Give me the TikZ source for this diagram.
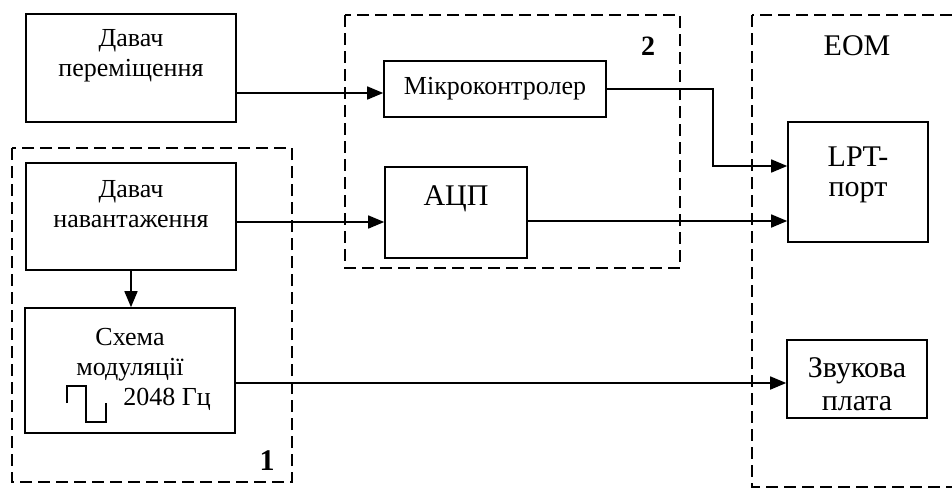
\documentclass[tikz,border=0pt]{standalone}
\usepackage{fontspec}
\setmainfont{Liberation Serif}
\usetikzlibrary{arrows.meta,calc}
\newcommand{\lns}[1]{\begin{tabular}[t]{@{}c@{}}#1\end{tabular}}
\begin{document}
\begin{tikzpicture}[x=1pt,y=-1pt,
  blk/.style={draw,line width=1.6pt,inner sep=0pt,text height=0pt,text depth=0pt},
  fsmall/.style={font=\fontsize{26}{30}\selectfont},
  fbig/.style={font=\fontsize{30}{30}\selectfont},
  grp/.style={draw,line width=1.8pt,dash pattern=on 12pt off 6pt},
  arr/.style={line width=1.6pt,-{Triangle[length=16pt,width=13pt]}},
  conn/.style={line width=1.6pt}]
\useasboundingbox (0,0) rectangle (952,491);
\fill[white] (0,0) rectangle (952,491);
% groups
\draw[grp] (12,148) rectangle (292,482);
\draw[grp] (345,15) rectangle (680,268);
\draw[grp] (752,15) rectangle (965,487);
\node[font=\bfseries\fontsize{30}{30}\selectfont,anchor=base] (g1) at (267,470) {1};
\node[font=\bfseries\fontsize{28}{30}\selectfont,anchor=base] (g2) at (648,55) {2};
\node[fbig,anchor=base] (g3) at (857,55) {ЕОМ};
% blocks
\node[blk,fsmall,minimum width=210pt,minimum height=108pt,text depth=44pt] (A) at (131,68) {\lns{Давач\\переміщення}};
\node[blk,fsmall,minimum width=210pt,minimum height=107pt,text depth=39pt] (B) at (131,216.5) {\lns{Давач\\навантаження}};
\node[blk,fsmall,minimum width=210pt,minimum height=125pt,text depth=51pt] (S) at (130,370.5) {\lns{Схема\\модуляції\\\hspace*{74pt}2048 Гц}};
\node[blk,fsmall,minimum width=222pt,minimum height=56pt,text height=10pt] (M) at (495,89) {Мікроконтролер};
\node[blk,fbig,minimum width=142pt,minimum height=91pt,text depth=15pt] (ADC) at (456,212.5) {АЦП};
\node[blk,fbig,minimum width=140pt,minimum height=120pt,text depth=32pt] (LPT) at (858,182) {\lns{LPT-\\порт}};
\node[blk,font=\fontsize{30}{33}\selectfont,minimum width=140pt,minimum height=78pt,text depth=4pt] (SND) at (857,379) {\lns{Звукова\\плата}};
% square wave
\draw[line width=1.6pt] (67,403) -- (67,386) -- (86,386) -- (86,422) -- (106,422) -- (106,403);
% connectors
\coordinate (Min) at ($(M.west)+(0,4)$);
\coordinate (Ain) at ($(ADC.west)+(0,9.5)$);
\coordinate (L1) at ($(LPT.west)+(0,-16)$);
\coordinate (L2) at ($(LPT.west)+(0,39)$);
\coordinate (Sin) at ($(SND.west)+(0,4)$);
\coordinate (bend) at ($(L1)+(-74,0)$);
\draw[arr] (A.east |- Min) -- (Min);
\draw[arr] (B.east |- Ain) -- (Ain);
\draw[arr] (ADC.east |- L2) -- (L2);
\draw[arr] (M.east) -| (bend) -- (L1);
\draw[arr] (B.south) -- (B.south |- S.north);
\draw[arr] (S.east |- Sin) -- (Sin);
\end{tikzpicture}
\end{document}
